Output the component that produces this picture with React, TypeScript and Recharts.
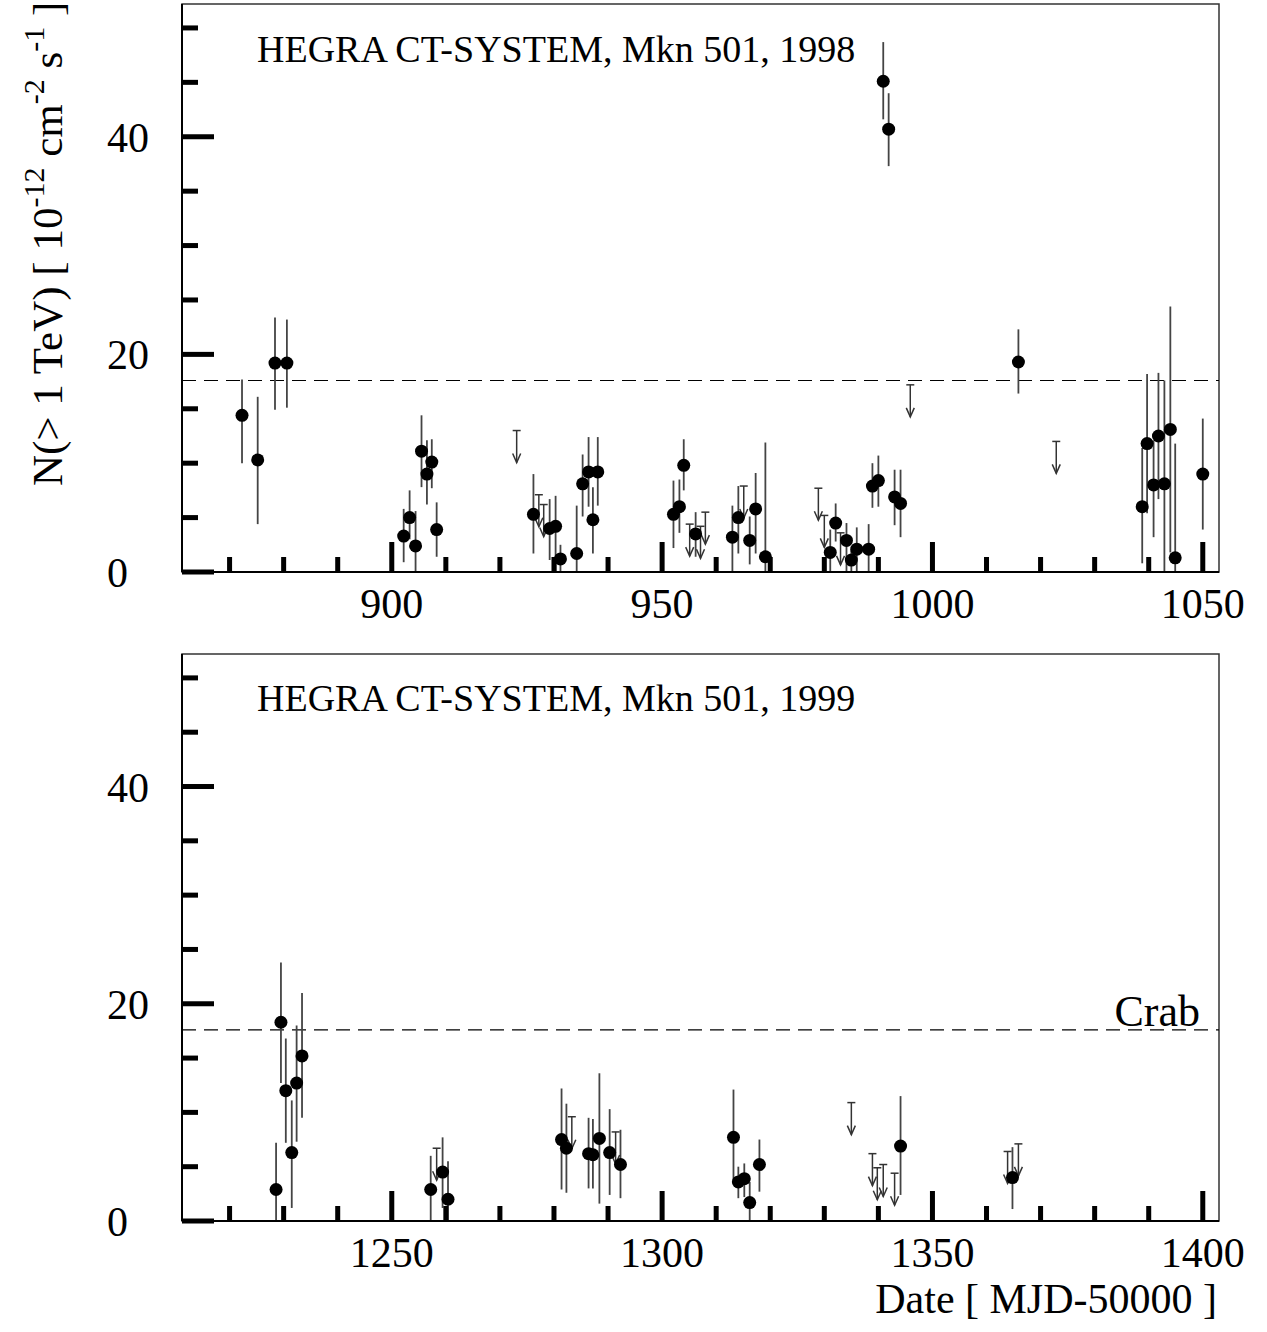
import React from "react";
import { ScatterChart, Scatter, XAxis, YAxis, ErrorBar, ReferenceLine, ReferenceArea } from "recharts";

const FONT = '"Liberation Serif", "Times New Roman", serif';

// 1998 detections: MJD-50000, flux, lower and upper end of the error bar
const days1998 = [
  872.3, 875.2, 878.4, 880.6, 902.2, 903.3, 904.4, 905.5, 906.5, 907.4, 908.3,
  926.2, 929.2, 930.3, 931.2, 934.2, 935.3, 936.4, 937.2, 938.1,
  952.1, 953.2, 954.0, 956.2, 963.0, 964.1, 966.2, 967.3, 969.1,
  981.1, 982.1, 984.1, 985.0, 986.0, 988.2, 988.9, 990.0, 990.9, 991.9, 993.0, 994.1,
  1015.9, 1038.8, 1039.7, 1040.9, 1041.8, 1042.9, 1044.0, 1044.9, 1050.0,
];
const flux1998 = [
  14.4, 10.3, 19.2, 19.2, 3.3, 5.0, 2.4, 11.1, 9.0, 10.1, 3.9,
  5.3, 4.0, 4.2, 1.2, 1.7, 8.1, 9.2, 4.8, 9.2,
  5.3, 6.0, 9.8, 3.5, 3.2, 5.0, 2.9, 5.8, 1.4,
  1.8, 4.5, 2.9, 1.1, 2.1, 2.1, 7.9, 8.4, 45.1, 40.7, 6.9, 6.3,
  19.3, 6.0, 11.8, 8.0, 12.5, 8.1, 13.1, 1.3, 9.0,
];
const low1998 = [
  10.0, 4.4, 14.9, 15.1, 0.9, 3.0, 0, 7.8, 6.2, 7.7, 1.4,
  1.7, 1.1, 0, 0, 0, 5.1, 6.0, 1.7, 6.1,
  2.2, 3.6, 7.5, 1.4, 0, 1.7, 0.7, 1.7, 0,
  0, 2.8, 0, 0, 0, 0, 5.9, 6.0, 41.6, 37.3, 4.3, 3.2,
  16.4, 0.8, 5.4, 3.2, 6.7, 0, 1.8, 0, 3.9,
];
const high1998 = [
  17.7, 16.1, 23.4, 23.2, 5.8, 7.5, 5.6, 14.4, 12.1, 12.2, 6.4,
  9.0, 6.7, 7.0, 2.5, 6.1, 10.8, 12.4, 7.8, 12.4,
  8.4, 8.5, 12.2, 5.5, 6.1, 7.9, 5.1, 9.1, 11.9,
  3.9, 6.3, 4.5, 2.0, 4.1, 4.4, 10.0, 10.7, 48.7, 44.0, 9.4, 9.4,
  22.3, 11.4, 18.2, 12.1, 18.3, 17.6, 24.4, 11.8, 14.1,
];
// 1998 upper limits
const ulDays1998 = [923.1, 927.2, 928.1, 955.1, 957.1, 958.0, 965.1, 978.9, 980.0, 983.0, 995.9, 1022.9];
const ulFlux1998 = [13.0, 7.1, 6.2, 4.4, 4.2, 5.5, 7.9, 7.7, 5.2, 3.6, 17.2, 12.0];

// 1999 detections
const days1999 = [
  1228.6, 1229.5, 1230.4, 1231.5, 1232.4, 1233.4, 1257.2, 1259.4, 1260.4,
  1281.4, 1282.3, 1286.4, 1287.2, 1288.4, 1290.3, 1292.3,
  1313.2, 1314.1, 1315.2, 1316.2, 1318.0, 1344.1, 1364.8,
];
const flux1999 = [
  2.9, 18.3, 12.0, 6.3, 12.7, 15.2, 2.9, 4.5, 2.0,
  7.5, 6.7, 6.2, 6.1, 7.6, 6.3, 5.2,
  7.7, 3.6, 3.9, 1.7, 5.2, 6.9, 4.0,
];
const low1999 = [
  0, 12.7, 7.2, 1.2, 7.3, 9.5, 0, 1.2, 0,
  2.9, 2.6, 3.0, 3.0, 1.6, 2.4, 2.1,
  3.6, 2.1, 2.2, 0, 2.7, 2.4, 1.1,
];
const high1999 = [
  7.2, 23.8, 16.8, 11.1, 18.0, 21.0, 6.0, 7.7, 5.5,
  12.2, 10.8, 9.5, 9.4, 13.6, 10.3, 8.4,
  12.1, 5.0, 5.3, 3.6, 7.5, 11.5, 6.8,
];
const ulDays1999 = [1258.3, 1283.3, 1291.4, 1335.0, 1338.9, 1339.8, 1340.9, 1343.0, 1363.9, 1365.9];
const ulFlux1999 = [6.7, 9.6, 8.2, 10.9, 6.2, 4.9, 5.2, 4.4, 6.4, 7.1];

const xTicks1998 = [870, 880, 890, 900, 910, 920, 930, 940, 950, 960, 970, 980, 990, 1000, 1010, 1020, 1030, 1040, 1050];
const xTicks1999 = [1220, 1230, 1240, 1250, 1260, 1270, 1280, 1290, 1300, 1310, 1320, 1330, 1340, 1350, 1360, 1370, 1380, 1390, 1400];
const yTicks = [0, 5, 10, 15, 20, 25, 30, 35, 40, 45, 50];
const crabFlux = 17.6;
const yMax = 52.2;

function toPoints(days: number[], flux: number[], low: number[], high: number[]) {
  return days.map((d, i) => ({ d, f: flux[i], err: [flux[i] - low[i], high[i] - flux[i]] }));
}
function toLimits(days: number[], flux: number[]) {
  return days.map((d, i) => ({ d, f: flux[i] }));
}

const XTick = (props: any) => {
  const { x, y, payload } = props;
  const v = payload.value;
  const major = v % 50 === 0;
  const h = major ? 30 : 15;
  return (
    <g>
      <rect x={x - 2.5} y={y - h} width={5} height={h} fill="#000" />
      {major && (
        <text x={x} y={y + 46} textAnchor="middle" fontSize={42} fontFamily={FONT} fill="#000">
          {v}
        </text>
      )}
    </g>
  );
};

const YTick = (props: any) => {
  const { x, y, payload } = props;
  const v = payload.value;
  const major = v % 20 === 0;
  const len = major ? 32 : 16;
  return (
    <g>
      <rect x={x} y={y - 2.5} width={len} height={5} fill="#000" />
      {major && (
        <text x={x - 75} y={y} dy="0.36em" textAnchor="start" fontSize={42} fontFamily={FONT} fill="#000">
          {v}
        </text>
      )}
    </g>
  );
};

const Dot = (props: any) => <circle cx={props.cx} cy={props.cy} r={6.5} fill="#000" />;

const UpperLimit = (props: any) => {
  const { cx, cy } = props;
  return (
    <g stroke="#333" strokeWidth={1.5} fill="none">
      <line x1={cx - 4} y1={cy} x2={cx + 4} y2={cy} />
      <line x1={cx} y1={cy} x2={cx} y2={cy + 32} />
      <polyline points={`${cx - 4},${cy + 23} ${cx},${cy + 32} ${cx + 4},${cy + 23}`} />
    </g>
  );
};

function Panel({ pts, lims, domain, ticks, height, xAxisHeight, bottom }: any) {
  return (
    <ScatterChart width={1267} height={height} margin={{ top: 4, right: 48, bottom, left: 0 }}>
      <ReferenceArea x1={domain[0]} x2={domain[1]} y1={0} y2={yMax} fill="none" stroke="#333" strokeWidth={1.5} />
      <XAxis
        type="number"
        dataKey="d"
        domain={domain}
        allowDataOverflow
        ticks={ticks}
        interval={0}
        tickSize={0}
        tickMargin={0}
        tickLine={false}
        tick={<XTick />}
        height={xAxisHeight}
        axisLine={{ stroke: "#000", strokeWidth: 2 }}
      />
      <YAxis
        type="number"
        dataKey="f"
        domain={[0, yMax]}
        allowDataOverflow
        ticks={yTicks}
        interval={0}
        tickSize={0}
        tickMargin={0}
        tickLine={false}
        tick={<YTick />}
        width={182}
        axisLine={{ stroke: "#000", strokeWidth: 2 }}
      />
      <ReferenceLine y={crabFlux} stroke="#000" strokeWidth={1.2} strokeDasharray="14 8" />
      <Scatter data={lims} shape={<UpperLimit />} isAnimationActive={false} />
      <Scatter data={pts} shape={<Dot />} isAnimationActive={false}>
        <ErrorBar dataKey="err" direction="y" width={0} stroke="#444" strokeWidth={1.8} isAnimationActive={false} />
      </Scatter>
    </ScatterChart>
  );
}

export default function App() {
  const pts1998 = toPoints(days1998, flux1998, low1998, high1998);
  const pts1999 = toPoints(days1999, flux1999, low1999, high1999);
  return (
    <div style={{ position: "absolute", left: 0, top: 0, width: 1267, height: 1332, background: "#fff" }}>
      <div style={{ position: "absolute", left: 0, top: 0 }}>
        <Panel
          pts={pts1998}
          lims={toLimits(ulDays1998, ulFlux1998)}
          domain={[861.2, 1053]}
          ticks={xTicks1998}
          height={640}
          xAxisHeight={60}
          bottom={8}
        />
      </div>
      <div style={{ position: "absolute", left: 0, top: 650 }}>
        <Panel
          pts={pts1999}
          lims={toLimits(ulDays1999, ulFlux1999)}
          domain={[1211.2, 1403]}
          ticks={xTicks1999}
          height={682}
          xAxisHeight={111}
          bottom={0}
        />
      </div>
      <svg width={1267} height={1332} style={{ position: "absolute", left: 0, top: 0, pointerEvents: "none" }}>
        <g fontFamily={FONT} fill="#000">
          <text x={257} y={62} fontSize={38}>HEGRA CT-SYSTEM, Mkn 501, 1998</text>
          <text x={257} y={711} fontSize={38}>HEGRA CT-SYSTEM, Mkn 501, 1999</text>
          <text x={1200} y={1026} fontSize={44} textAnchor="end">Crab</text>
          <text x={1217} y={1313} fontSize={42} textAnchor="end">Date [ MJD-50000 ]</text>
          <text x={62} y={486} fontSize={43} transform="rotate(-90 62 486)">
            {"N(> 1 TeV) [ 10"}
            <tspan dy={-18} fontSize={30}>-12</tspan>
            <tspan dy={18}>{" cm"}</tspan>
            <tspan dy={-18} fontSize={30}>-2</tspan>
            <tspan dy={18}>{" s"}</tspan>
            <tspan dy={-18} fontSize={30}>-1</tspan>
            <tspan dy={18}>{" ]"}</tspan>
          </text>
        </g>
      </svg>
    </div>
  );
}
